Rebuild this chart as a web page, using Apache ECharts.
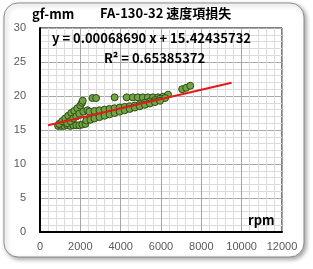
<!DOCTYPE html>
<html><head><meta charset="utf-8">
<script src="https://cdn.jsdelivr.net/npm/echarts@6/dist/echarts.min.js"></script>
<style>html,body{margin:0;padding:0;background:#fff}#c{width:313px;height:269px}</style>
</head><body><div id="c"></div>
<script>
// rpm values
const rpm = [
 900,1050,1200,1350,1500,1650,1800,1950,2100,2250,
 950,1100,1250,1400,1550,1700,1850,2000,2080,2120,
 1350,1500,1650,1800,1950,2150,2350,
 2600,2780,3700,4300,4600,4850,5100,5350,5600,5850,6100,6350,7050,7250,7450,
 2450,2700,2950,3200,3450,3700,3950,4200,4450,4700,4950,5200,5450,5700,5950,6200,
 2300,2500,2700,2950,3200,3450,3700,3950,4200,4450,4700,4950,5200,5450,5700,5950
];
// gf-mm values
const torque = [
 15.6,15.6,15.6,15.7,15.6,15.7,15.7,15.7,15.8,15.9,
 15.9,16.3,16.7,17.1,17.5,17.8,18.2,18.6,19.0,19.3,
 16.0,16.3,16.7,17.0,17.4,17.7,17.9,
 19.7,19.7,19.8,19.8,19.8,19.8,19.8,19.8,19.8,19.8,19.9,20.2,21.0,21.2,21.5,
 17.7,17.8,17.9,18.0,18.1,18.2,18.3,18.4,18.5,18.6,18.8,19.0,19.2,19.4,19.6,19.7,
 16.4,16.5,16.7,16.9,17.1,17.3,17.5,17.7,17.9,18.1,18.3,18.5,18.7,18.9,19.1,19.3
];
const trendCoef = [0.00068690, 15.42435732]; // slope, intercept
const trendRange = [400, 9500];
const xTicks = [0, 12000, 2000];
const yTicks = [0, 30, 5];

const pts = rpm.map((x, i) => [x, torque[i]]);
const trend = trendRange.map(x => [x, trendCoef[0] * x + trendCoef[1]]);

const chart = echarts.init(document.getElementById('c'), null, {renderer: 'canvas'});
const labelFont = {color: '#595959', fontSize: 11, fontFamily: 'Liberation Sans, Arial, sans-serif'};
chart.setOption({
  animation: false,
  backgroundColor: '#fff',
  grid: {left: 40, right: 31, top: 28, bottom: 37, show: true, borderColor: '#000', borderWidth: 1},
  xAxis: {
    type: 'value', min: xTicks[0], max: xTicks[1], interval: xTicks[2],
    axisLine: {show: true, onZero: false, lineStyle: {color: '#000', width: 2}},
    axisTick: {show: false},
    axisLabel: Object.assign({margin: 9, formatter: v => String(v)}, labelFont),
    splitLine: {show: true, lineStyle: {color: '#a6a6a6', width: 1}},
    minorTick: {show: false, splitNumber: 5},
    minorSplitLine: {show: true, lineStyle: {color: '#dcdcdc', width: 1}}
  },
  yAxis: {
    type: 'value', min: yTicks[0], max: yTicks[1], interval: yTicks[2],
    axisLine: {show: true, onZero: false, lineStyle: {color: '#000', width: 2}},
    axisTick: {show: false},
    axisLabel: Object.assign({margin: 14, formatter: v => String(v)}, labelFont),
    splitLine: {show: true, lineStyle: {color: '#a6a6a6', width: 1}},
    minorTick: {show: false, splitNumber: 5},
    minorSplitLine: {show: true, lineStyle: {color: '#dcdcdc', width: 1}}
  },
  series: [
    {type: 'scatter', data: pts, symbolSize: 7,
     itemStyle: {color: '#72a444', borderColor: '#2e4d17', borderWidth: 1, opacity: 1}, z: 3},
    {type: 'line', data: trend, symbol: 'none', lineStyle: {color: '#e41a1c', width: 2}, z: 4}
  ],
  graphic: [
    {type: 'rect', z: -10, shape: {x: 4, y: 3, width: 300, height: 254, r: 14},
     style: {fill: '#fff', stroke: '#8c8c8c', lineWidth: 1, shadowBlur: 4, shadowOffsetX: 2, shadowOffsetY: 2, shadowColor: 'rgba(0,0,0,0.35)'}},
    {type: 'text', z: 20, left: 32, top: 8,
     style: {text: 'gf-mm', fill: '#000', font: 'bold 13px "Noto Sans CJK JP", sans-serif'}},
    {type: 'text', z: 20, left: 100, top: 7,
     style: {text: 'FA-130-32 速度項損失', fill: '#000', font: 'bold 13px "Noto Sans CJK JP", sans-serif'}},
    {type: 'text', z: 20, left: 52, top: 32,
     style: {text: 'y = 0.00068690 x + 15.42435732', fill: '#000', font: 'bold 13px "Noto Sans CJK JP", sans-serif'}},
    {type: 'text', z: 20, left: 104, top: 52,
     style: {text: 'R² = 0.65385372', fill: '#000', font: 'bold 13px "Noto Sans CJK JP", sans-serif'}},
    {type: 'text', z: 20, left: 248, top: 214,
     style: {text: 'rpm', fill: '#000', font: 'bold 13px "Noto Sans CJK JP", sans-serif'}}
  ]
});
</script></body></html>
